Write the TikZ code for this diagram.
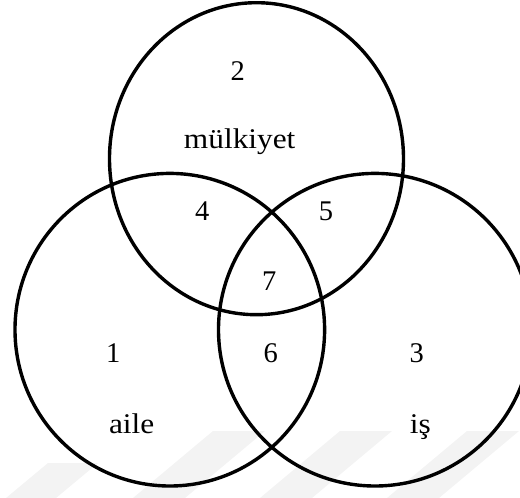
\documentclass[tikz,border=0pt]{standalone}
\usepackage{fontspec}
\setmainfont{Liberation Serif}
\definecolor{ringcol}{RGB}{0, 0, 0}
\definecolor{wmark}{RGB}{243, 243, 243}

\begin{document}
\begin{tikzpicture}[
  x=1pt, y=-1pt,
  every node/.style={font=\fontsize{28.5}{34}\selectfont, inner sep=0pt},
  ring/.style={draw=ringcol, line width=3.4pt},
  num/.style={anchor=base},
  word/.style={anchor=base, xscale=1.1},
  band/.style={fill=wmark},
]
\useasboundingbox (0,0) rectangle (520,498);

% Faint bands along the bottom
\foreach \x in {213,340,467}{
  \fill[band] (\x,431) -- (\x+52,431) -- (\x-28,498) -- (\x-80,498) -- cycle;
}
\fill[band] (48,463) -- (98,463) -- (56,498) -- (6,498) -- cycle;

% Circles
\draw[ring] (256.5,158.7) ellipse [x radius=147, y radius=156];
\draw[ring] (169.8,329.7) ellipse [x radius=154.8, y radius=156.3];
\draw[ring] (375,329.7) ellipse [x radius=156.5, y radius=156.3];

% Region numbers
\foreach \n/\x/\y in {1/113.3/362, 2/237.7/80, 3/416.7/362, 4/202.3/220,
                      5/326/220, 6/270.7/362, 7/269.3/290.7}{
  \node[num] (r\n) at (\x,\y) {\n};
}

% Set names
\node[word] (mulk) at (239.7,148.3) {mülkiyet};
\node[word] (aile) at (131.7,433.7) {aile};
\node[word] (is) at (420.3,433.7) {iş};

\end{tikzpicture}
\end{document}
